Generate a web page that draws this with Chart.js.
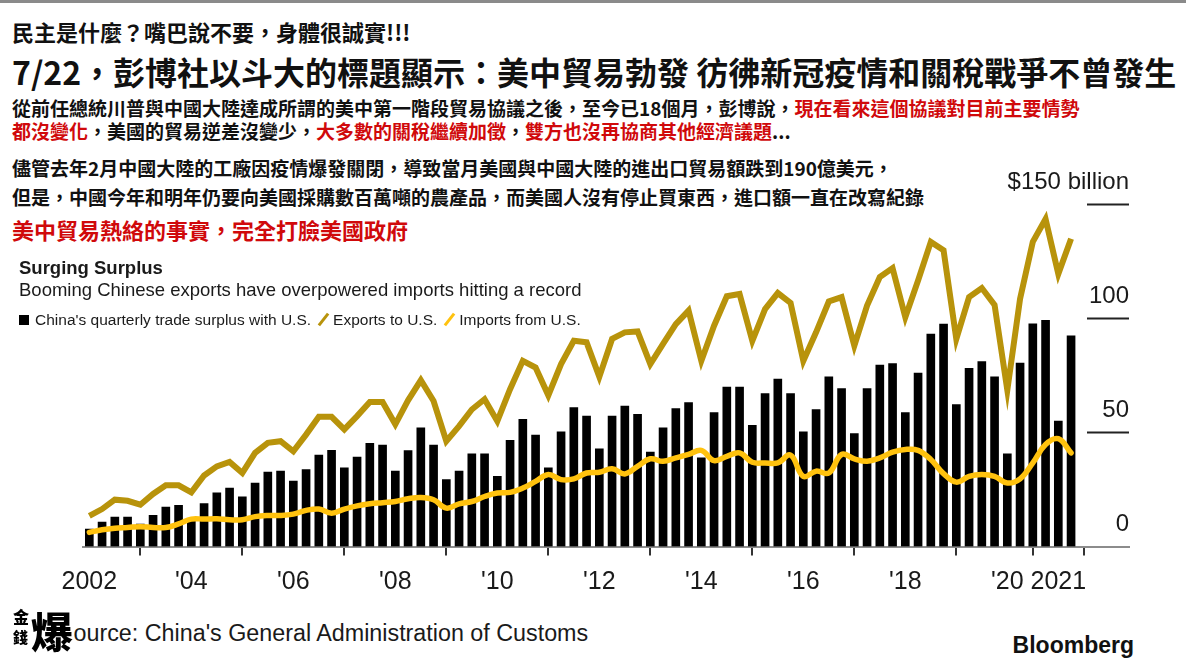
<!DOCTYPE html>
<html>
<head>
<meta charset="utf-8">
<script src="https://cdn.jsdelivr.net/npm/chart.js@4"></script>
<style>
    html, body { margin: 0; padding: 0; background: #fff; }
    #page { position: relative; width: 1186px; height: 667px; overflow: hidden; background: #fff; }
    #topline { position: absolute; left: 0; top: 0; width: 1186px; height: 3px; background: #8a8a8a; }
    .zh { position: absolute; left: 12px; font-family: "Noto Sans CJK TC", "Noto Sans CJK SC", sans-serif; font-weight: 700; color: #111; white-space: nowrap; }
    .red { color: #d0090b; }
    .en { position: absolute; font-family: "Liberation Sans", Arial, sans-serif; color: #1a1a1a; white-space: nowrap; }
    #chart { position: absolute; left: 0; top: 150px; }
    .sq { display: inline-block; width: 10px; height: 10px; background: #000; margin-right: 6px; vertical-align: 0px; }
    .slash { display: inline-block; width: 3px; height: 15px; margin: 0 8px 0 11px; transform: rotate(38deg); vertical-align: -2px; }
    #logo { position: absolute; left: 8px; top: 602px; width: 66px; height: 60px; background: #fff; font-family: "Noto Sans CJK TC", sans-serif; font-weight: 900; color: #000; }
    #logo span { position: absolute; line-height: 1; }
</style>
</head>
<body>
<div id="page">
    <div id="topline"></div>
    <div class="zh" style="top:19px;font-size:22px;line-height:25px;">民主是什麼？嘴巴說不要，身體很誠實!!!</div>
    <div class="zh" style="top:53px;font-size:32px;line-height:36px;">7/22，彭博社以斗大的標題顯示：美中貿易勃發 彷彿新冠疫情和關稅戰爭不曾發生</div>
    <div class="zh" style="top:97px;font-size:19px;line-height:22px;">從前任總統川普與中國大陸達成所謂的美中第一階段貿易協議之後，至今已18個月，彭博說，<span class="red">現在看來這個協議對目前主要情勢</span></div>
    <div class="zh" style="top:120px;font-size:19px;line-height:22px;"><span class="red">都沒變化</span>，美國的貿易逆差沒變少，<span class="red">大多數的關稅繼續加徵</span>，<span class="red">雙方也沒再協商其他經濟議題</span>...</div>
    <div class="zh" style="top:157px;font-size:19px;line-height:22px;">儘管去年2月中國大陸的工廠因疫情爆發關閉，導致當月美國與中國大陸的進出口貿易額跌到190億美元，</div>
    <div class="zh" style="top:186px;font-size:19px;line-height:22px;">但是，中國今年和明年仍要向美國採購數百萬噸的農產品，而美國人沒有停止買東西，進口額一直在改寫紀錄</div>
    <div class="zh red" style="top:217px;font-size:22px;line-height:25px;">美中貿易熱絡的事實，完全打臉美國政府</div>

    <canvas id="chart" width="1186" height="470"></canvas>

    <div class="en" style="left:19px;top:257px;font-size:18.5px;font-weight:700;">Surging Surplus</div>
    <div class="en" style="left:19px;top:279px;font-size:18.5px;">Booming Chinese exports have overpowered imports hitting a record</div>
    <div class="en" style="left:19px;top:311px;font-size:15.5px;"><span class="sq"></span>China's quarterly trade surplus with U.S.<span class="slash" style="background:#b8930b"></span>Exports to U.S.<span class="slash" style="background:#ffc20e"></span>Imports from U.S.</div>

    <div class="en" style="left:58px;top:620px;font-size:23.3px;">Source: China's General Administration of Customs</div>
    <div class="en" style="right:52px;top:632px;font-size:23px;font-weight:700;color:#111;">Bloomberg</div>
    <div id="logo">
        <span style="left:5px;top:6px;font-size:16px;">金</span>
        <span style="left:5px;top:27px;font-size:15px;">錢</span>
        <span style="left:23px;top:7px;font-size:42px;">爆</span>
    </div>
</div>
<script>
// quarters, 2002 Q1 to 2021 Q2
const quarters = [
    "2002Q1", "2002Q2", "2002Q3", "2002Q4", "2003Q1", "2003Q2", "2003Q3", "2003Q4",
    "2004Q1", "2004Q2", "2004Q3", "2004Q4", "2005Q1", "2005Q2", "2005Q3", "2005Q4",
    "2006Q1", "2006Q2", "2006Q3", "2006Q4", "2007Q1", "2007Q2", "2007Q3", "2007Q4",
    "2008Q1", "2008Q2", "2008Q3", "2008Q4", "2009Q1", "2009Q2", "2009Q3", "2009Q4",
    "2010Q1", "2010Q2", "2010Q3", "2010Q4", "2011Q1", "2011Q2", "2011Q3", "2011Q4",
    "2012Q1", "2012Q2", "2012Q3", "2012Q4", "2013Q1", "2013Q2", "2013Q3", "2013Q4",
    "2014Q1", "2014Q2", "2014Q3", "2014Q4", "2015Q1", "2015Q2", "2015Q3", "2015Q4",
    "2016Q1", "2016Q2", "2016Q3", "2016Q4", "2017Q1", "2017Q2", "2017Q3", "2017Q4",
    "2018Q1", "2018Q2", "2018Q3", "2018Q4", "2019Q1", "2019Q2", "2019Q3", "2019Q4",
    "2020Q1", "2020Q2", "2020Q3", "2020Q4", "2021Q1", "2021Q2"
];

// $ billion
const surplus = [
    7.6, 10.7, 12.9, 12.9, 9.8, 13.6, 17.3, 18.0,
    11.3, 18.8, 23.5, 25.6, 21.7, 27.8, 32.6, 33.0,
    28.6, 33.7, 40.0, 42.1, 34.4, 39.2, 45.2, 44.4,
    33.0, 42.0, 52.0, 44.4, 29.3, 33.0, 40.6, 40.6,
    30.7, 46.5, 55.7, 48.8, 34.4, 50.2, 60.8, 57.1,
    42.8, 57.1, 61.5, 57.9, 41.3, 52.0, 60.4, 63.0,
    38.8, 58.6, 69.8, 69.8, 53.1, 67.0, 73.3, 67.0,
    50.2, 60.0, 74.3, 69.2, 49.5, 69.2, 79.5, 80.1,
    58.6, 75.9, 93.0, 97.4, 62.2, 78.0, 81.0, 74.3,
    40.6, 80.3, 97.5, 99.0, 54.9, 92.3
];
const exportsToUS = [
    13.4, 16.4, 20.5, 20.0, 18.3, 23.0, 26.8, 26.8,
    23.7, 31.1, 35.1, 37.0, 32.2, 41.0, 45.4, 46.1,
    41.7, 49.0, 56.8, 56.8, 51.3, 57.1, 63.3, 63.3,
    53.5, 64.0, 72.8, 63.7, 46.1, 52.7, 60.0, 64.5,
    54.9, 68.9, 81.3, 78.4, 66.2, 79.9, 90.1, 89.4,
    74.3, 90.9, 93.8, 94.2, 79.9, 88.7, 97.4, 103.3,
    81.3, 96.7, 109.6, 110.6, 90.1, 104.0, 111.0, 106.7,
    81.3, 93.8, 107.3, 109.2, 87.9, 105.5, 118.0, 121.9,
    100.4, 116.5, 133.4, 129.7, 90.9, 109.2, 113.2, 105.8,
    68.5, 108.5, 133.4, 143.4, 119.4, 134.8
];
const importsFromUS = [
    6.2, 7.3, 8.0, 8.3, 8.7, 8.3, 8.3, 9.9,
    12.0, 12.0, 12.1, 11.7, 11.7, 13.1, 13.6, 13.6,
    14.2, 15.8, 16.4, 14.6, 16.4, 17.8, 18.7, 19.2,
    19.7, 20.9, 21.5, 20.5, 16.8, 18.7, 19.7, 21.9,
    23.4, 23.7, 25.6, 28.5, 31.5, 29.3, 29.6, 32.2,
    32.5, 34.0, 31.8, 35.1, 38.4, 37.3, 38.8, 40.3,
    42.1, 37.6, 39.5, 41.0, 36.9, 36.6, 36.6, 40.0,
    30.7, 33.0, 32.2, 40.3, 38.4, 37.3, 38.8, 41.3,
    42.5, 42.1, 38.1, 31.9, 28.2, 30.7, 31.5, 30.7,
    27.8, 29.6, 36.6, 44.7, 47.2, 41.0
];

const xTickYears = [2002, 2004, 2006, 2008, 2010, 2012, 2014, 2016, 2018, 2020, 2021];
const xTickLabels = ["2002", "'04", "'06", "'08", "'10", "'12", "'14", "'16", "'18", "'20", "2021"];
const yTickValues = [0, 50, 100, 150];
const yTickLabels = ["0", "50", "100", "$150 billion"];

const colors = {
    bar: "#000000",
    exports: "#b8930b",
    imports: "#ffc20e",
    text: "#1a1a1a",
};

// "2005Q3" -> 2005.5
const quarterToX = (q) => parseInt(q.substring(0, 4)) + (parseInt(q.substring(5)) - 1) / 4;
const toPoints = (values) => values.map((v, idx) => ({ x: quarterToX(quarters[idx]), y: v }));

// short gridlines at the right end of the plot
const shortGridPlugin = {
    id: "shortGrid",
    afterDraw: (chart) => {
        const ctx = chart.ctx;
        const yScale = chart.scales.y;
        const right = chart.chartArea.right;
        ctx.save();
        ctx.strokeStyle = "#222";
        ctx.lineWidth = 2;
        yTickValues.filter((v) => v > 0).forEach((v) => {
            const y = Math.round(yScale.getPixelForValue(v)) + 0.5;
            ctx.beginPath();
            ctx.moveTo(right - 42, y);
            ctx.lineTo(right, y);
            ctx.stroke();
        });
        ctx.restore();
    },
};

const chartConfig = {
    type: "bar",
    data: {
        datasets: [
            {
                type: "line",
                label: "Imports from U.S.",
                data: toPoints(importsFromUS),
                borderColor: colors.imports,
                borderWidth: 5.5,
                tension: 0.4,
                pointRadius: 0,
                borderCapStyle: "round",
                order: 1,
            },
            {
                type: "line",
                label: "Exports to U.S.",
                data: toPoints(exportsToUS),
                borderColor: colors.exports,
                borderWidth: 6,
                tension: 0,
                pointRadius: 0,
                borderJoinStyle: "miter",
                order: 2,
            },
            {
                label: "China's quarterly trade surplus with U.S.",
                data: toPoints(surplus),
                backgroundColor: colors.bar,
                barThickness: 8,
                order: 3,
            },
        ],
    },
    options: {
        responsive: false,
        animation: false,
        devicePixelRatio: 1,
        layout: { padding: { left: 83, right: 57, top: 54, bottom: 0 } },
        plugins: {
            legend: { display: false },
            tooltip: { enabled: false },
        },
        scales: {
            x: {
                type: "linear",
                min: 2001.876,
                max: 2022.386,
                offset: false,
                afterBuildTicks: (scale) => {
                    scale.ticks = xTickYears.map((v) => ({ value: v }));
                },
                afterFit: (scale) => {
                    scale.height = 73.5;
                },
                ticks: {
                    autoSkip: false,
                    maxRotation: 0,
                    padding: 12,
                    color: colors.text,
                    font: { family: "Liberation Sans", size: 25 },
                    callback: (value) => xTickLabels[xTickYears.indexOf(value)],
                },
                grid: {
                    drawOnChartArea: false,
                    drawTicks: true,
                    tickLength: 9,
                    color: "#333",
                    lineWidth: 2,
                },
                border: { display: true, color: "#8c8c8c", width: 2 },
            },
            y: {
                position: "right",
                min: 0,
                max: 150,
                afterBuildTicks: (scale) => {
                    scale.ticks = yTickValues.map((v) => ({ value: v }));
                },
                afterFit: (scale) => {
                    scale.width = 0;
                },
                ticks: {
                    mirror: true,
                    padding: 0,
                    labelOffset: -22,
                    color: colors.text,
                    font: { family: "Liberation Sans", size: 24 },
                    callback: (value) => yTickLabels[yTickValues.indexOf(value)],
                },
                grid: { display: false },
                border: { display: false },
            },
        },
    },
    plugins: [shortGridPlugin],
};

// build chart
const myChart = new Chart(document.getElementById("chart"), chartConfig);
</script>
</body>
</html>
